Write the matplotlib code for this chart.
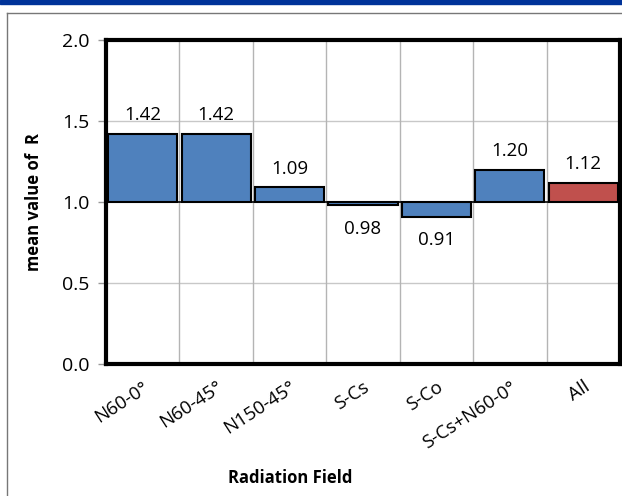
import matplotlib
matplotlib.use("Agg")
import matplotlib.pyplot as plt
from matplotlib.lines import Line2D
from matplotlib.patches import Rectangle

categories = ["N60-0°", "N60-45°", "N150-45°", "S-Cs", "S-Co", "S-Cs+N60-0°", "All"]
values = [1.42, 1.42, 1.09, 0.98, 0.91, 1.20, 1.12]
labels = ["1.42", "1.42", "1.09", "0.98", "0.91", "1.20", "1.12"]
colors = ["#4F81BD"] * 6 + ["#C0504D"]
yticks = [0.0, 0.5, 1.0, 1.5, 2.0]
baseline = 1.0

plt.rcParams['font.family'] = ['Open Sans', 'DejaVu Sans']

fig = plt.figure(figsize=(6.22, 4.96), dpi=100)
# top blue band and grey frame
fig.add_artist(Rectangle((0, 1 - 4/496), 1, 4/496, transform=fig.transFigure, color="#003399", zorder=0))
fig.add_artist(Line2D([7/622, 7/622], [0, 1 - 13/496], transform=fig.transFigure, color="#777777", lw=1))
fig.add_artist(Line2D([7/622, 1], [1 - 13/496, 1 - 13/496], transform=fig.transFigure, color="#777777", lw=1))

ax = fig.add_axes([106/622, 132/496, 514/622, 324/496])
x = list(range(len(categories)))
heights = [v - baseline for v in values]
ax.bar(x, heights, bottom=baseline, width=0.94, color=colors, edgecolor="black", linewidth=1.5, zorder=3)
ax.axhline(baseline, color="black", lw=1.2, zorder=4)

for xi, v, lab in zip(x, values, labels):
    if v >= baseline:
        ax.text(xi, v + 0.06, lab, ha="center", va="bottom", fontsize=13.5)
    else:
        ax.text(xi, v - 0.09, lab, ha="center", va="top", fontsize=13.5)

ax.set_xlim(-0.5, len(categories) - 0.5)
ax.set_ylim(0, 2.0)
ax.set_yticks(yticks)
ax.set_yticklabels([f"{t:.1f}" for t in yticks], fontsize=14)
for yv in [0.5, 1.5]:
    ax.axhline(yv, color="#C8C8C8", lw=1, zorder=1)
for b in range(1, len(categories)):
    ax.axvline(b - 0.5, color="#B4B4B4", lw=1, zorder=1)

ax.set_xticks(x)
ax.set_xticklabels(categories, rotation=33, ha="right", rotation_mode="anchor", fontsize=13.5)
ax.tick_params(axis="x", length=0, pad=10)
ax.tick_params(axis="y", length=6, width=1, color="#999999", pad=6)
for s in ax.spines.values():
    s.set_linewidth(3)
    s.set_color("black")

ax.set_ylabel("mean value of  R", fontsize=12, fontweight="bold")
ax.yaxis.set_label_coords((43 - 106) / 514, 0.5)
fig.text(290/622, 1 - 478/496, "Radiation Field", ha="center", va="center", fontsize=12, fontweight="bold")

fig.savefig("out.png", dpi=100)
